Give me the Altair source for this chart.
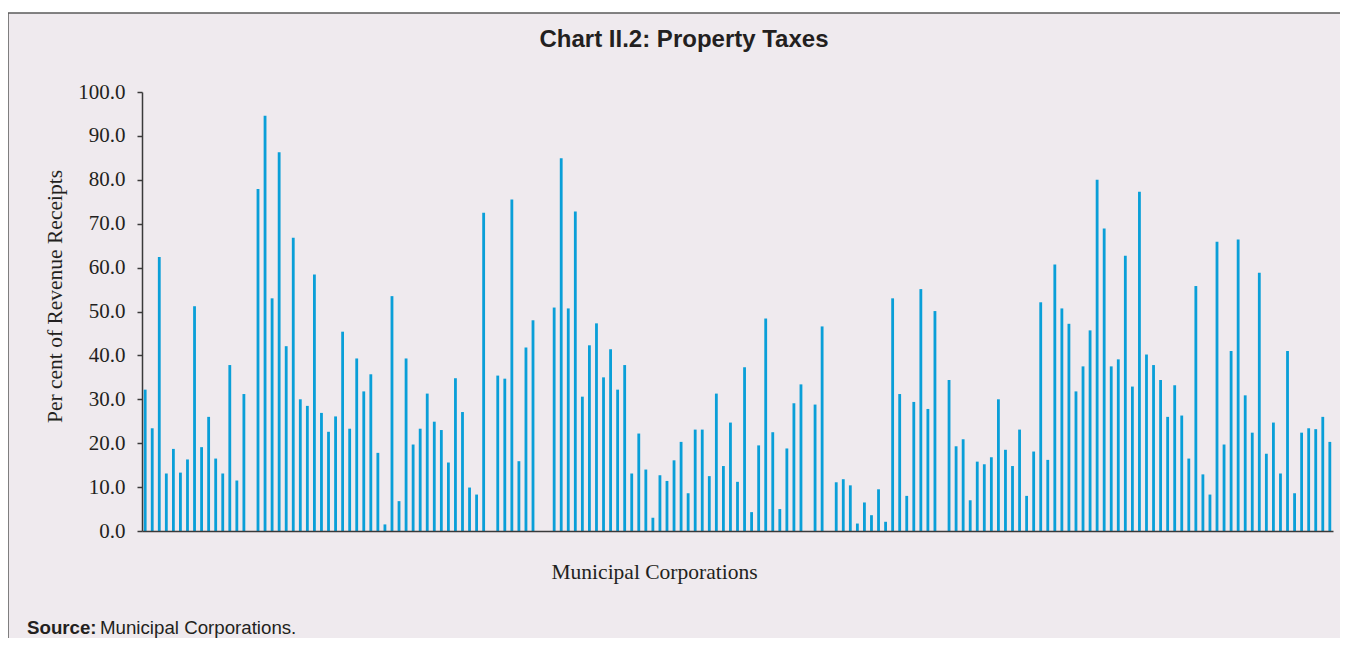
import altair as alt
import pandas as pd

# Property tax share (% of revenue receipts) for each municipal corporation; None = no bar
seg1 = [32.2, 23.4, 62.4, 13.1, 18.7, 13.3, 16.3, 51.2, 19.1, 26.0, 16.5, 13.1, 37.8, 11.5, 31.2, None,
        77.9, 94.6, 53.0, 86.3, 42.1, 66.8, 30.0, 28.5, 58.4, 26.9, 22.6, 26.1]
seg2 = [45.4, 23.3, 39.3, 31.8, 35.7, 17.8, 1.5, 53.5, 6.8, 39.3, 19.7, 23.3, 31.3, 24.9, 23.0, 15.6,
        34.8, 27.1, 9.9, 8.3, 72.5, None, 35.4, 34.7, 75.5, 15.9, 41.8, 48.0]
seg3 = [None, None, 50.9, 84.9, 50.7, 72.8, 30.6, 42.3, 47.3, 35.0, 41.4, 32.2, 37.8, 13.1, 22.2, 14.0,
        3.0, 12.7, 11.4, 16.1, 20.3, 8.6, 23.1, 23.1, 12.5, 31.3, 14.8, 24.7, 11.2]
seg4 = [37.3, 4.3, 19.5, 48.4, 22.5, 5.0, 18.8, 29.1, 33.4, None, 28.8, 46.6, None, 11.1, 11.8, 10.4,
        1.7, 6.5, 3.6, 9.5, 2.1, 53.0, 31.2, 8.0, 29.4, 55.1, 27.8, 50.1]
seg5 = [None, 34.4, 19.3, 20.9, 7.0, 15.8, 15.2, 16.8, 30.0, 18.5, 14.8, 23.1, 8.0, 18.1, 52.1, 16.2,
        60.7, 50.7, 47.2, 31.8, 37.5, 45.7, 80.0, 68.9, 37.5, 39.1, 62.7, 32.9, 77.3]
seg6 = [40.2, 37.8, 34.4, 26.0, 33.2, 26.3, 16.5, 55.8, 12.9, 8.3, 65.9, 19.7, 41.0, 66.4, 30.9, 22.4,
        58.8, 17.6, 24.7, 13.1, 41.0, 8.6, 22.4, 23.4, 23.2, 26.0, 20.3]

values = seg1 + seg2 + seg3 + seg4 + seg5 + seg6
ids = list(range(len(values)))
y_ticks = [0, 10, 20, 30, 40, 50, 60, 70, 80, 90, 100]

df = pd.DataFrame({"corp": ids, "share": values})

W, H = 1191, 439
BG = "#EFEAEE"
SERIF = "Liberation Serif"
SANS = "Liberation Sans"
INK = "#231f20"
EDGE = "#5a5a5a"

one = pd.DataFrame({"a": [0]})
panel = alt.Chart(one).mark_rect(fill=BG).encode(
    x=alt.value(-134), x2=alt.value(W + 60),
    y=alt.value(-79), y2=alt.value(H + 140),
)
edge_left = alt.Chart(one).mark_rule(color=EDGE, strokeWidth=1.5).encode(
    x=alt.value(-134), y=alt.value(-79), y2=alt.value(H + 140),
)
edge_top = alt.Chart(one).mark_rule(color=EDGE, strokeWidth=1.5).encode(
    x=alt.value(-134), x2=alt.value(W + 60), y=alt.value(-79),
)

bars = alt.Chart(df).mark_bar(color="#0A9FD8").encode(
    x=alt.X("corp:O",
            scale=alt.Scale(domain=ids, paddingInner=0.6, paddingOuter=0.25),
            axis=alt.Axis(labels=False, ticks=False, domainColor="#3a3a3a", domainWidth=1.5,
                          zindex=1,
                          title="Municipal Corporations", titleFont=SERIF, titleFontSize=21.5,
                          titleFontWeight="normal", titleColor=INK,
                          titleX=512, titleY=41, titleBaseline="middle", titleAnchor="start",
                          titleAlign="center")),
    y=alt.Y("share:Q",
            scale=alt.Scale(domain=[0, 100], nice=False),
            axis=alt.Axis(values=y_ticks, format=".1f", grid=False, zindex=1,
                          labelFont=SERIF, labelFontSize=21, labelColor=INK, labelPadding=12,
                          tickColor="#3a3a3a", tickSize=5, tickWidth=1.5,
                          domainColor="#3a3a3a", domainWidth=1.5,
                          title="Per cent of Revenue Receipts", titleFont=SERIF, titleFontSize=21.5,
                          titleFontWeight="normal", titleColor=INK,
                          titleX=-87, titleY=204, titleAngle=-90, titleBaseline="middle",
                          titleAlign="center", titleAnchor="start")),
)

title_txt = alt.Chart(pd.DataFrame({"t": ["Chart II.2: Property Taxes"]})).mark_text(
    font=SANS, fontSize=24, fontWeight="bold", color=INK, align="center", baseline="middle"
).encode(text="t:N", x=alt.value(684 - 142), y=alt.value(40 - 92))

src_bold = alt.Chart(pd.DataFrame({"t": ["Source:"]})).mark_text(
    font=SANS, fontSize=18.7, fontWeight="bold", color=INK, align="left", baseline="middle"
).encode(text="t:N", x=alt.value(27 - 142), y=alt.value(628 - 92))

src_norm = alt.Chart(pd.DataFrame({"t": ["Municipal Corporations."]})).mark_text(
    font=SANS, fontSize=18.7, color=INK, align="left", baseline="middle"
).encode(text="t:N", x=alt.value(100 - 142), y=alt.value(628 - 92))

chart = alt.layer(panel, edge_left, edge_top, bars, title_txt, src_bold, src_norm).properties(
    width=W, height=H,
    autosize=alt.AutoSizeParams(type="none"),
    padding={"left": 134, "top": 84, "right": 7, "bottom": 107},
    background="white",
).configure_view(stroke=None)

chart.save("out.html", embed_options={"renderer": "svg", "actions": False})
